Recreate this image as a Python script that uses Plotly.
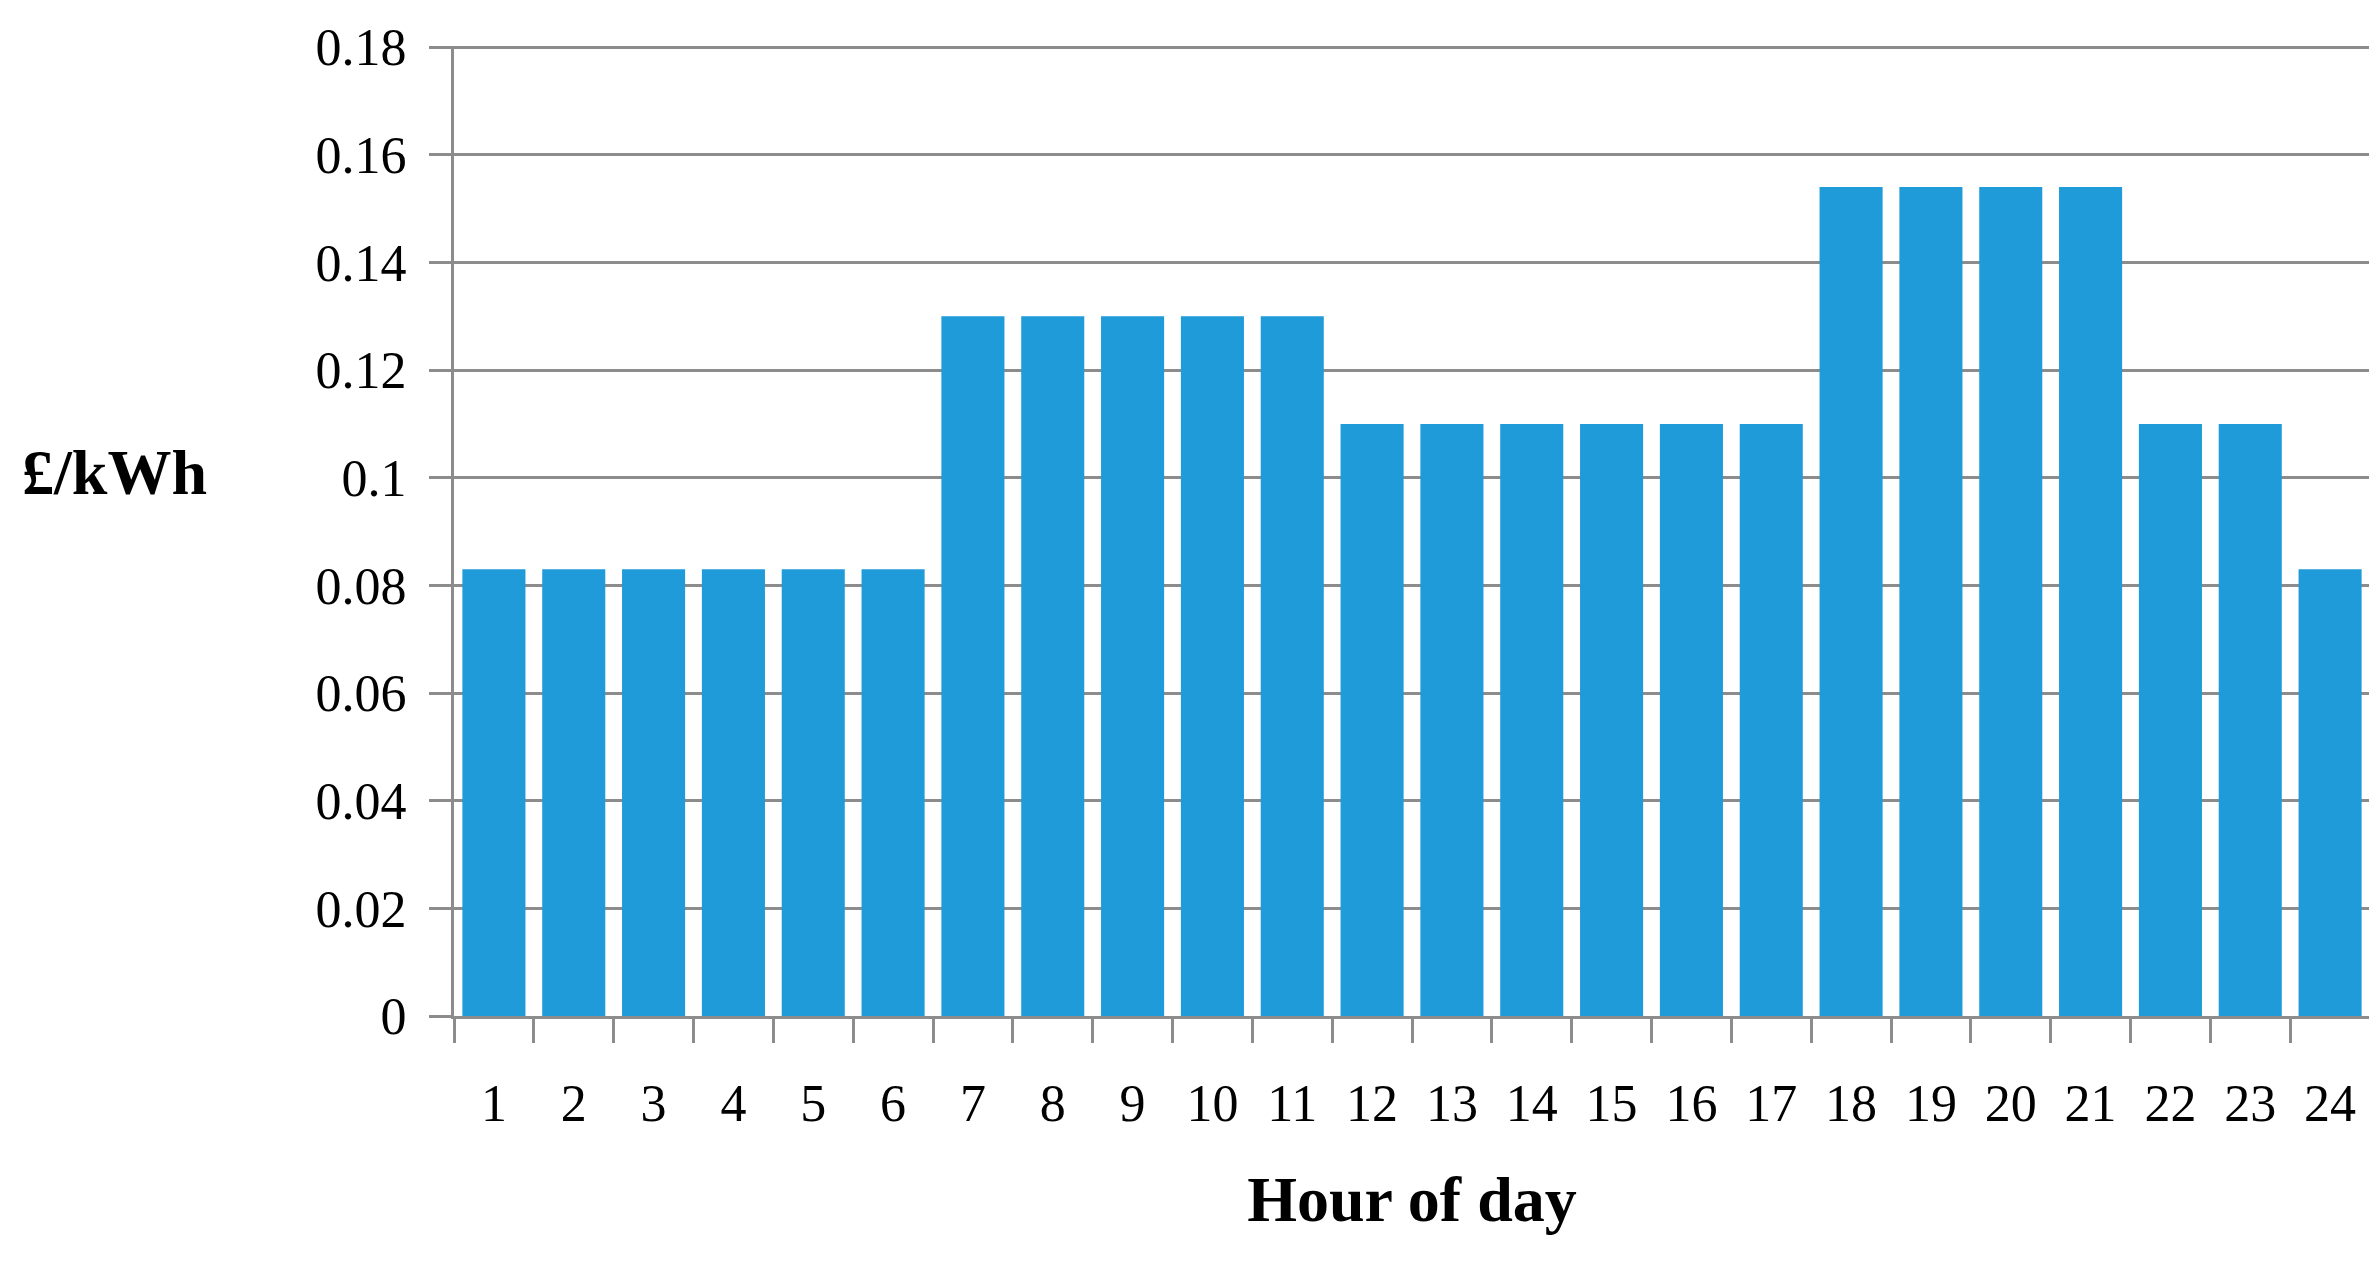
import plotly.graph_objects as go

hours = list(range(1, 25))
price = [0.083] * 6 + [0.13] * 5 + [0.11] * 6 + [0.154] * 4 + [0.11] * 2 + [0.083]
y_ticks = [0, 0.02, 0.04, 0.06, 0.08, 0.1, 0.12, 0.14, 0.16, 0.18]
y_labels = ["0", "0.02", "0.04", "0.06", "0.08", "0.1", "0.12", "0.14", "0.16", "0.18"]

serif = "Liberation Serif, DejaVu Serif, serif"
grey = "#8c8c8c"

fig = go.Figure(go.Bar(x=hours, y=price, marker=dict(color="#1f9bd9", line=dict(width=0))))

fig.update_layout(
    width=2377, height=1270,
    paper_bgcolor="white", plot_bgcolor="white",
    margin=dict(l=446, r=15, t=38, b=262),
    bargap=0.21,
    showlegend=False,
    font=dict(family=serif, size=52, color="black"),
    xaxis=dict(
        range=[0.5, 24.5], tickvals=hours, ticks="", showgrid=False,
        showline=True, linecolor=grey, linewidth=3,
        ticklabelstandoff=40,
        minor=dict(tick0=0.5, dtick=1, ticks="outside", ticklen=24, tickwidth=3,
                   tickcolor=grey, showgrid=False),
        title=dict(text="<b>Hour of day</b>", font=dict(size=64), standoff=45),
    ),
    yaxis=dict(
        range=[0, 0.1802], tickvals=y_ticks, ticktext=y_labels,
        showgrid=True, gridcolor=grey, gridwidth=3,
        showline=True, linecolor=grey, linewidth=3,
        ticks="outside", ticklen=22, tickwidth=3, tickcolor=grey,
        ticklabelstandoff=12,
        zeroline=False,
    ),
    annotations=[dict(text="<b>£/kWh</b>", xref="paper", yref="paper",
                      x=-(446 - 12) / (2377 - 461), y=0.56,
                      xanchor="left", yanchor="middle", showarrow=False,
                      font=dict(size=64, family=serif))],
)
fig.write_html("out.html")
